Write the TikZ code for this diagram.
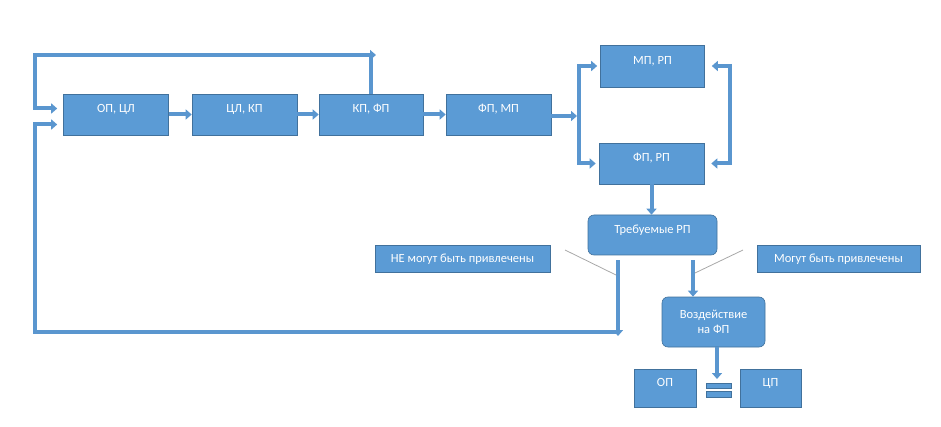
\documentclass[tikz,border=0pt]{standalone}
\usepackage{fontspec}
\setmainfont{Carlito}
\usetikzlibrary{arrows.meta}
\definecolor{bfill}{HTML}{5B9BD5}
\definecolor{bdraw}{HTML}{41719C}
\definecolor{lcol}{HTML}{5A96CF}
\definecolor{thing}{HTML}{A8A8A8}
\begin{document}
\begin{tikzpicture}[x=1pt,y=-1pt,
  box/.style={draw=bdraw,fill=bfill,line width=0.6pt,text=white,inner sep=0pt,
    font=\fontsize{12.5}{15}\selectfont,text height=8.5pt,text depth=11.5pt},
  cbox/.style={box,text height=8.5pt,text depth=0pt},
  rbox/.style={draw=bdraw,fill=bfill,line width=0.6pt,text=white,inner sep=0pt,
    font=\fontsize{12.5}{15}\selectfont,rounded corners=6pt,align=center},
  conn/.style={draw=lcol,line width=4pt},
  arr/.style={conn,-{Triangle[length=6pt,width=10pt]}},
  darr/.style={conn,{Triangle[length=6pt,width=10pt]}-{Triangle[length=6pt,width=10pt]}},
  thinl/.style={draw=thing,line width=0.8pt}]
\useasboundingbox (0,0) rectangle (941,427);

% boxes
\node[box,minimum width=105pt,minimum height=41pt] (a1) at (116,114.5) {ОП, ЦЛ};
\node[box,minimum width=105pt,minimum height=41pt] (a2) at (244.5,114.5) {ЦЛ, КП};
\node[box,minimum width=104pt,minimum height=41pt] (a3) at (371,114.5) {КП, ФП};
\node[box,minimum width=105pt,minimum height=41pt] (a4) at (498.5,114.5) {ФП, МП};
\node[box,minimum width=104pt,minimum height=42pt] (mp) at (652.5,66) {МП, РП};
\node[box,minimum width=105pt,minimum height=41pt] (fpr) at (651.5,163.5) {ФП, РП};
\node[box,rounded corners=6pt,minimum width=129pt,minimum height=40pt] (tr) at (652.5,235) {Требуемые РП};
\node[cbox,minimum width=175pt,minimum height=27pt] (ne) at (462.5,258.5) {НЕ могут быть привлечены};
\node[cbox,minimum width=163pt,minimum height=27pt] (mo) at (838.5,258.5) {Могут быть привлечены};
\node[rbox,minimum width=103pt,minimum height=50pt] (vz) at (713.5,322) {Воздействие\\на ФП};
\node[box,minimum width=62pt,minimum height=38pt] (op) at (665,388) {ОП};
\node[box,minimum width=61pt,minimum height=38pt] (cp) at (770.5,388) {ЦП};

% equals sign
\filldraw[fill=bfill,draw=bdraw,line width=0.5pt] (706,383) rectangle (731,388);
\filldraw[fill=bfill,draw=bdraw,line width=0.5pt] (706,391.5) rectangle (731,397);

% main chain
\draw[arr] (a1) -- (a2);
\draw[arr] (a2) -- (a3);
\draw[arr] (a3) -- (a4);

% left bracket
\coordinate (br) at (579,116);
\coordinate (bra) at (577,116);
\draw[arr] (a4.east |- bra) -- (bra);
\draw[conn] ([yshift=2pt]br |- mp) -- ([yshift=-2pt]br |- fpr);
\draw[arr,shorten >=3pt] (br |- mp) -- (mp);
\draw[arr,shorten >=3pt] (br |- fpr) -- (fpr);

% right bracket
\coordinate (rb) at (730,115);
\draw[conn] ([yshift=2pt]rb |- mp) -- ([yshift=-2pt]rb |- fpr);
\draw[arr,shorten >=7pt] (rb |- mp) -- (mp);
\draw[arr,shorten >=7pt] (rb |- fpr) -- (fpr);

% down arrows
\draw[arr] (fpr.south) -- (fpr.south |- tr.north);
\coordinate (m1) at ([xshift=40.5pt,yshift=-5pt]tr.south);
\draw[arr] (m1) -- (m1 |- vz.north);
\coordinate (e1) at (717,379);
\draw[arr] ([xshift=3.5pt]vz.south) -- (e1);

% top loop
\coordinate (tl) at (35,55);
\coordinate (t2) at (376,55);
\draw[conn] (a3.north) -- ([yshift=2pt]a3.north |- tl);
\draw[darr,shorten >=6pt] (t2) -- (tl) |- ([yshift=6pt]a1.west);

% bottom loop
\coordinate (l1) at ([xshift=-34.5pt,yshift=-5pt]tr.south);
\coordinate (l2) at (618,336);
\coordinate (l3) at (620,332);
\coordinate (cl) at (35,332);
\draw[arr] (l1) -- (l2);
\draw[arr,shorten >=6pt] (l3) -- (cl) |- ([yshift=-10pt]a1.west);

% thin lines
\coordinate (g1) at (565,250);
\coordinate (g2) at (616,275);
\coordinate (g3) at (743,250);
\coordinate (g4) at (695,273);
\draw[thinl] (g1) -- (g2);
\draw[thinl] (g3) -- (g4);
\end{tikzpicture}
\end{document}
